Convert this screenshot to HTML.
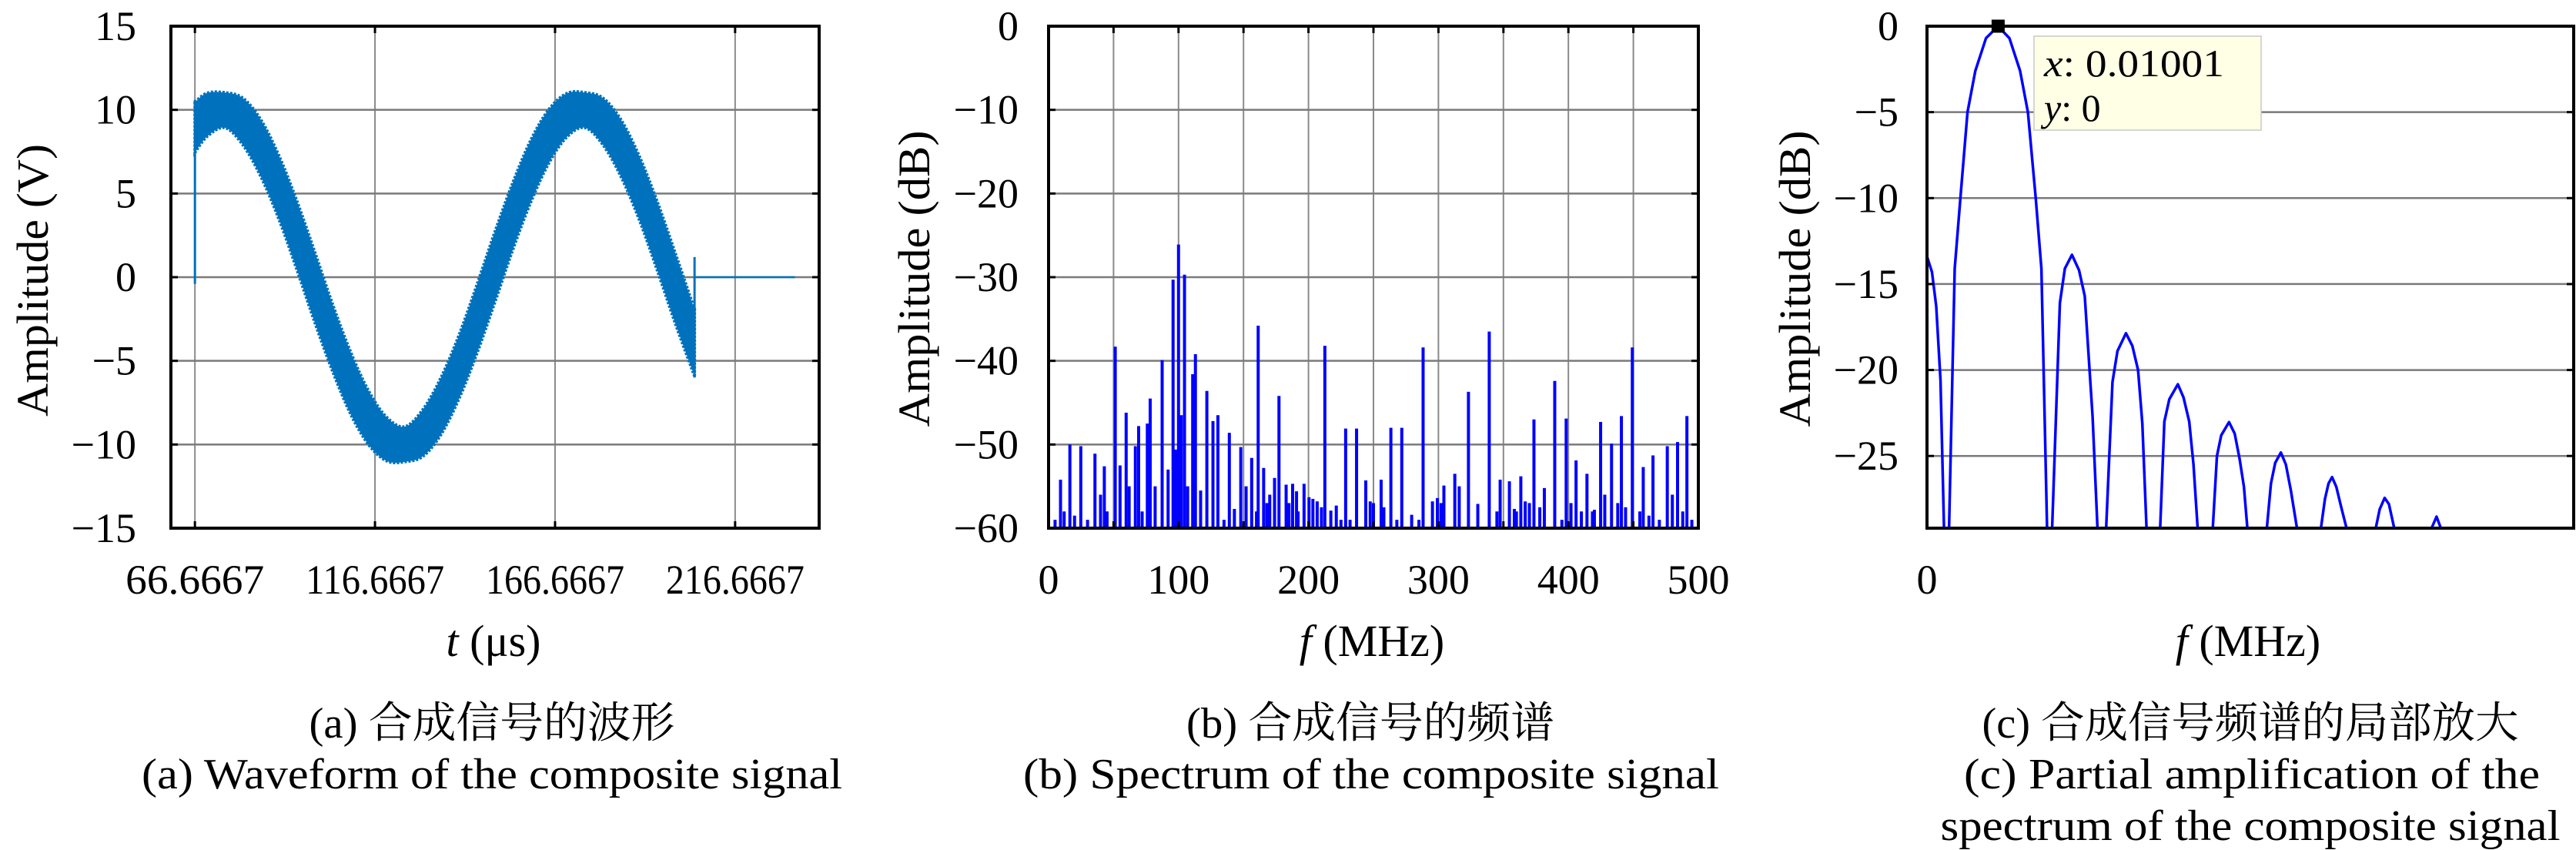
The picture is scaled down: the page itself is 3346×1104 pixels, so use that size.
<!DOCTYPE html>
<html><head><meta charset="utf-8"><style>
html,body{margin:0;padding:0;background:#fff;}
svg{display:block;font-family:"Liberation Serif","Noto Serif CJK SC","Noto Sans CJK SC",serif;}
</style></head><body>
<svg id="fig" width="3346" height="1104" viewBox="0 0 3346 1104" xmlns="http://www.w3.org/2000/svg">
<defs>
<clipPath id="clipA"><rect x="222" y="34" width="842" height="652"/></clipPath>
<clipPath id="clipB"><rect x="1362" y="34" width="844" height="652"/></clipPath>
<clipPath id="clipC"><rect x="2503" y="34" width="840" height="652"/></clipPath>
</defs>
</svg>
<script>
// ---------- Panel (a) data ----------
const waveT   = [66.67,70,75,80,85,90,95,100,105,110,115,120,125,130,135,140,145,150,155,160,165,170,175,180,185,190,195,200,205,205.4];
const waveMid = [8.95,9.7,9.98,9.3,7.7,5.36,2.49,-0.63,-3.68,-6.37,-8.44,-9.69,-9.98,-9.3,-7.7,-5.36,-2.49,0.63,3.68,6.37,8.44,9.69,9.98,9.3,7.7,5.36,2.49,-0.63,-3.68,-3.9];
const waveHalf = [1.5,1.3,1.05,1.4,1.7,1.9,2.05,2.1,2.0,1.85,1.6,1.3,1.05,1.4,1.7,1.9,2.05,2.1,2.0,1.85,1.6,1.3,1.05,1.4,1.7,1.9,2.05,2.1,2.0,2.0];
const waveFlatT = [205.4,233.3];
const waveFlatV = [0,0];
const aXTicks = [66.6667,116.6667,166.6667,216.6667];
const aXTickLabels = ["66.6667","116.6667","166.6667","216.6667"];
const aYTicks = [15,10,5,0,-5,-10,-15];
// ---------- Panel (b) data ----------
const specF = [0,9.2,16.4,24.8,35.7,42.9,51.3,59.7,66.8,69.3,76,78.2,87.4,95.8,100,102.1,104.6,110.9,113,121.8,126.5,130.3,139.1,147.9,156.3,161.3,165.5,170.2,173.9,177.3,182.8,187.8,190.8,196.6,200.4,203.4,206.7,212.6,217.2,221.4,228.6,237,244.1,247.5,255.9,263.4,271.8,279.4,288.2,295.4,299.2,304.2,312.6,323.1,330.3,339.1,347.5,354.6,358.4,363.4,366.8,373.5,381.5,389.5,398.3,405.9,414.3,418.5,424.8,433.2,440.8,449.2,457.6,465.1,476.1,484,491.2,500,
  5,12,20,30,40,45,55,62,72,82,92,98,107,117,135,143,152,160,168,185,192,210,225,232,250,258,268,285,302,316,345,360,370,378,395,402,410,420,428,438,444,455,462,470,480,488,495];
const specDB = [0,-54.2,-50,-50.2,-51.1,-52.6,-38.3,-46.2,-50.2,-47.8,-47.5,-44.5,-39.9,-30.3,-26.1,-46.5,-29.7,-41.6,-39.2,-43.6,-47.2,-46.5,-48.6,-50.3,-51.6,-35.8,-52.8,-56,-54,-44.2,-54.8,-54.7,-55.6,-54.7,-56.3,-56.5,-56.8,-38.2,-57.9,-57.3,-48.1,-48.1,-54.3,-56.8,-54.2,-48,-48,-58.4,-38.4,-56.8,-56.4,-54.9,-53.5,-43.7,-57.1,-36.5,-54.2,-54.4,-57.7,-53.8,-56.8,-47,-55.2,-42.4,-46.9,-51.9,-53.5,-58,-47.3,-49.9,-46.6,-38.4,-52.7,-51.3,-50.2,-49.7,-46.6,-13.4,
  -59,-58,-58.5,-59,-56,-58,-52.5,-55,-58,-55,-53,-50.6,-55,-55.5,-59,-57.7,-55,-58,-57,-57,-58,-57.5,-59,-59,-57,-57.5,-59,-59,-57,-55,-58,-58,-57,-57.5,-59,-57,-58,-57.8,-56,-57,-57.5,-58,-58.5,-59,-56,-58,-59];
const bXGrid = [50,100,150,200,250,300,350,400,450];
const bXTicks = [0,100,200,300,400,500];
const bYTicks = [0,-10,-20,-30,-40,-50,-60];
// ---------- Panel (c) data ----------
const zoomF  = [0,0.0007,0.0013,0.0019,0.0024,0.0027,0.0031,0.0039,0.0047,0.0057,0.0068,0.0083,0.0100,0.0116,0.0131,0.0142,0.0153,0.0161,0.0169,0.0172,0.0176,0.0187,0.0194,0.0204,0.0214,0.0222,0.0233,0.0240,0.0246,0.0252,0.0261,0.0268,0.0280,0.0289,0.0297,0.0303,0.0309,0.0318,0.0328,0.0334,0.0341,0.0353,0.0361,0.0369,0.0375,0.0381,0.0391,0.0402,0.0408,0.0414,0.0425,0.0433,0.0440,0.0446,0.0451,0.0465,0.0478,0.0484,0.0490,0.0498,0.0505,0.0512,0.0521,0.0537,0.0554,0.0560,0.0565,0.0570,0.0576,0.0583,0.0591,0.0611,0.0631,0.0637,0.0644,0.0650,0.0658,0.0683,0.0709,0.0717,0.0724];
const zoomDB = [-13.4,-14.3,-16.3,-20.6,-29.3,-40,-29.3,-14.1,-10,-5,-2.6,-0.7,0,-0.7,-2.6,-5,-10,-14.1,-29.3,-40,-29.3,-16.1,-14.1,-13.3,-14.2,-15.7,-22.7,-29.3,-40,-29.3,-20.7,-18.9,-17.86,-18.6,-20.0,-23.1,-29.3,-40,-29.3,-23,-21.7,-20.83,-21.6,-23,-25.5,-29.3,-40,-29.3,-25,-23.8,-23.03,-23.7,-25.2,-26.8,-29.3,-40,-29.3,-26.6,-25.4,-24.8,-25.5,-27,-29.3,-40,-29.3,-27.5,-26.6,-26.23,-26.8,-28,-29.3,-40,-29.3,-28.1,-27.44,-27.8,-29.3,-40,-29.3,-28.53,-29.3];
const cYTicks = [0,-5,-10,-15,-20,-25];
const tipF = [0.01001];
const tipDB = [0];

const NS = "http://www.w3.org/2000/svg";
const svg = document.getElementById('fig');
function mk(tag, attrs, parent){
  const e = document.createElementNS(NS, tag);
  for (const k in attrs) e.setAttribute(k, attrs[k]);
  (parent||svg).appendChild(e);
  return e;
}
function scale(d0,d1,p0,p1){ return v => p0 + (v-d0)/(d1-d0)*(p1-p0); }
// smooth path through points (Catmull-Rom rendering)
function smoothPath(p){
  let d = 'M'+p[0][0]+','+p[0][1];
  for (let i=0;i<p.length-1;i++){
    const p0=p[Math.max(i-1,0)], p1=p[i], p2=p[i+1], p3=p[Math.min(i+2,p.length-1)];
    const c1=[p1[0]+(p2[0]-p0[0])/6, p1[1]+(p2[1]-p0[1])/6];
    const c2=[p2[0]-(p3[0]-p1[0])/6, p2[1]-(p3[1]-p1[1])/6];
    d += ' C'+c1[0]+','+c1[1]+' '+c2[0]+','+c2[1]+' '+p2[0]+','+p2[1];
  }
  return d;
}

// ===== Panel A =====
const A = {L:222,R:1064,T:34,B:686};
const ax = scale(60,240,A.L,A.R), ay = scale(-15,15,A.B,A.T);
const gA = mk('g',{});


aXTicks.forEach(t=>{
  const l = mk('line',{x1:ax(t),x2:ax(t),y1:A.T,y2:A.B,stroke:'#8a8a8a','stroke-width':2},gA);
  
  
});
aYTicks.forEach(v=>{
  const l = mk('line',{x1:A.L,x2:A.R,y1:ay(v),y2:ay(v),stroke:'#7a7a7a','stroke-width':2.5},gA);
  
  
});
const upP = waveT.map((t,i)=>[ax(t), ay(waveMid[i]+waveHalf[i])]);
const dnP = waveT.map((t,i)=>[ax(t), ay(waveMid[i]-waveHalf[i])]).reverse();
const upD = smoothPath(upP);
const dnD = smoothPath(dnP).replace(/^M/,' L');
const band = mk('path',{d:upD+dnD+' Z',fill:'#0072BD',stroke:'#0072BD','stroke-width':4,'stroke-dasharray':'3 2','clip-path':'url(#clipA)'},gA);


const sp1 = mk('line',{x1:ax(waveT[0]),x2:ax(waveT[0]),y1:ay(-0.4),y2:ay(10.6),stroke:'#0072BD','stroke-width':3},gA);


const last = waveT.length-1;
const sp2 = mk('line',{x1:ax(waveT[last]),x2:ax(waveT[last]),y1:ay(-6),y2:ay(1.2),stroke:'#0072BD','stroke-width':3},gA);


const flat = mk('line',{x1:ax(waveFlatT[0]),x2:ax(waveFlatT[1]),y1:ay(waveFlatV[0]),y2:ay(waveFlatV[1]),stroke:'#0072BD','stroke-width':2.5},gA);


aXTicks.forEach(t=>{
  mk('line',{x1:ax(t),x2:ax(t),y1:A.B,y2:A.B-9,stroke:'#000','stroke-width':3},gA);
  mk('line',{x1:ax(t),x2:ax(t),y1:A.T,y2:A.T+9,stroke:'#000','stroke-width':3},gA);
});
aYTicks.forEach(v=>{
  mk('line',{x1:A.L,x2:A.L+9,y1:ay(v),y2:ay(v),stroke:'#000','stroke-width':3},gA);
  mk('line',{x1:A.R,x2:A.R-9,y1:ay(v),y2:ay(v),stroke:'#000','stroke-width':3},gA);
});
const frA = mk('rect',{x:A.L,y:A.T,width:A.R-A.L,height:A.B-A.T,fill:'none',stroke:'#000','stroke-width':4},gA);


aYTicks.forEach(v=>{
  const t = mk('text',{x:177,y:ay(v)+18,'text-anchor':'end','font-size':54},gA);
  t.textContent = v<0 ? '\u2212'+(-v) : String(v);
  
  
});
aXTicks.forEach((v,i)=>{
  const t = mk('text',{x:ax(v),y:771,'text-anchor':'middle','font-size':54,textLength:180,lengthAdjust:'spacingAndGlyphs'},gA);
  t.textContent = aXTickLabels[i];
  
  
});

// ===== Panel B =====
const Bp = {L:1362,R:2206,T:34,B:686};
const bx = scale(0,500,Bp.L,Bp.R), by = scale(-60,0,Bp.B,Bp.T);
const gB = mk('g',{});


bXGrid.forEach(f=>{
  const l = mk('line',{x1:bx(f),x2:bx(f),y1:Bp.T,y2:Bp.B,stroke:'#8a8a8a','stroke-width':2},gB);
  
  
});
bYTicks.forEach(v=>{
  const l = mk('line',{x1:Bp.L,x2:Bp.R,y1:by(v),y2:by(v),stroke:'#7a7a7a','stroke-width':2.5},gB);
  
  
});
specF.forEach((f,i)=>{
  const l = mk('line',{x1:bx(f),x2:bx(f),y1:by(-60),y2:by(specDB[i]),stroke:'#0000ff','stroke-width':4,'clip-path':'url(#clipB)'},gB);
  
  
});
bXGrid.concat([0,500]).forEach(f=>{
  mk('line',{x1:bx(f),x2:bx(f),y1:Bp.B,y2:Bp.B-9,stroke:'#000','stroke-width':3},gB);
  mk('line',{x1:bx(f),x2:bx(f),y1:Bp.T,y2:Bp.T+9,stroke:'#000','stroke-width':3},gB);
});
bYTicks.forEach(v=>{
  mk('line',{x1:Bp.L,x2:Bp.L+9,y1:by(v),y2:by(v),stroke:'#000','stroke-width':3},gB);
  mk('line',{x1:Bp.R,x2:Bp.R-9,y1:by(v),y2:by(v),stroke:'#000','stroke-width':3},gB);
});
const frB = mk('rect',{x:Bp.L,y:Bp.T,width:Bp.R-Bp.L,height:Bp.B-Bp.T,fill:'none',stroke:'#000','stroke-width':4},gB);


bYTicks.forEach(v=>{
  const t = mk('text',{x:1323,y:by(v)+18,'text-anchor':'end','font-size':54},gB);
  t.textContent = v<0 ? '\u2212'+(-v) : String(v);
  
  
});
bXTicks.forEach(v=>{
  const t = mk('text',{x:bx(v),y:771,'text-anchor':'middle','font-size':54},gB);
  t.textContent = String(v);
  
  
});

// ===== Panel C =====
const C = {L:2503,R:3343,T:34,B:686};
const cx = scale(0,0.091,C.L,C.R), cy = scale(-29.2,0,C.B,C.T);
const gC = mk('g',{});


cYTicks.forEach(v=>{
  const l = mk('line',{x1:C.L,x2:C.R,y1:cy(v),y2:cy(v),stroke:'#7a7a7a','stroke-width':2.5},gC);
  
  
});
const pts = zoomF.map((f,i)=>cx(f)+','+cy(zoomDB[i])).join(' ');
const cl = mk('polyline',{points:pts,fill:'none',stroke:'#0000ff','stroke-width':3.5,'stroke-linejoin':'round','clip-path':'url(#clipC)'},gC);


cYTicks.forEach(v=>{
  mk('line',{x1:C.L,x2:C.L+9,y1:cy(v),y2:cy(v),stroke:'#000','stroke-width':3},gC);
  mk('line',{x1:C.R,x2:C.R-9,y1:cy(v),y2:cy(v),stroke:'#000','stroke-width':3},gC);
});
const frC = mk('rect',{x:C.L,y:C.T,width:C.R-C.L,height:C.B-C.T,fill:'none',stroke:'#000','stroke-width':4},gC);


cYTicks.forEach(v=>{
  const t = mk('text',{x:2466,y:cy(v)+18,'text-anchor':'end','font-size':54},gC);
  t.textContent = v<0 ? '\u2212'+(-v) : String(v);
  
  
});
const c0 = mk('text',{x:C.L,y:771,'text-anchor':'middle','font-size':54},gC);
c0.textContent = '0';


const mkSq = mk('rect',{x:cx(tipF[0])-8.5,y:cy(tipDB[0])-8.5,width:17,height:17,fill:'#000'},gC);


const tipBox = mk('rect',{x:2642,y:47,width:295,height:122,fill:'#ffffe6',stroke:'#c8c8c8','stroke-width':1.5},gC);


const t1 = mk('text',{x:2655,y:99,'font-size':50,textLength:234,lengthAdjust:'spacingAndGlyphs'},gC);
t1.innerHTML = '<tspan font-style="italic">x</tspan>: '+tipF[0];


const t2 = mk('text',{x:2655,y:157,'font-size':50},gC);
t2.innerHTML = '<tspan font-style="italic">y</tspan>: '+tipDB[0];



// ===== Axis titles =====
function rotTitle(x,yc,len,txt,name){
  const t = mk('text',{x:x,y:yc,'text-anchor':'middle','font-size':58,transform:'rotate(-90 '+x+' '+yc+')',textLength:len,lengthAdjust:'spacingAndGlyphs'});
  t.textContent = txt;
  
  
}
rotTitle(62,364,354,'Amplitude (V)','waveform-y-axis-title');
rotTitle(1207,362,385,'Amplitude (dB)','spectrum-y-axis-title');
rotTitle(2351,362,385,'Amplitude (dB)','zoom-y-axis-title');
function xTitle(xc,html,name){
  const t = mk('text',{x:xc,y:852,'text-anchor':'middle','font-size':58});
  t.innerHTML = html;
  
  
}
xTitle(641,'<tspan font-style="italic">t</tspan> (\u03bcs)','waveform-x-axis-title');
xTitle(1782,'<tspan font-style="italic">f</tspan> (MHz)','spectrum-x-axis-title');
xTitle(2920,'<tspan font-style="italic">f</tspan> (MHz)','zoom-x-axis-title');

// ===== Captions =====
function cap(xc,y,txt,len,name){
  const a = {x:xc,y:y,'text-anchor':'middle','font-size':56};
  if (len){ a.textLength = len; a.lengthAdjust = 'spacingAndGlyphs'; }
  const t = mk('text',a);
  t.textContent = txt;
  
  
}
cap(639,958,'(a) 合成信号的波形',475,'caption-a-chinese');
cap(639,1024,'(a) Waveform of the composite signal',910,'caption-a-english');
cap(1780,958,'(b) 合成信号的频谱',478,'caption-b-chinese');
cap(1781,1024,'(b) Spectrum of the composite signal',904,'caption-b-english');
cap(2923,958,'(c) 合成信号频谱的局部放大',697,'caption-c-chinese');
cap(2925,1024,'(c) Partial amplification of the',748,'caption-c-english-1');
cap(2923,1091,'spectrum of the composite signal',805,'caption-c-english-2');
</script>
</body></html>
